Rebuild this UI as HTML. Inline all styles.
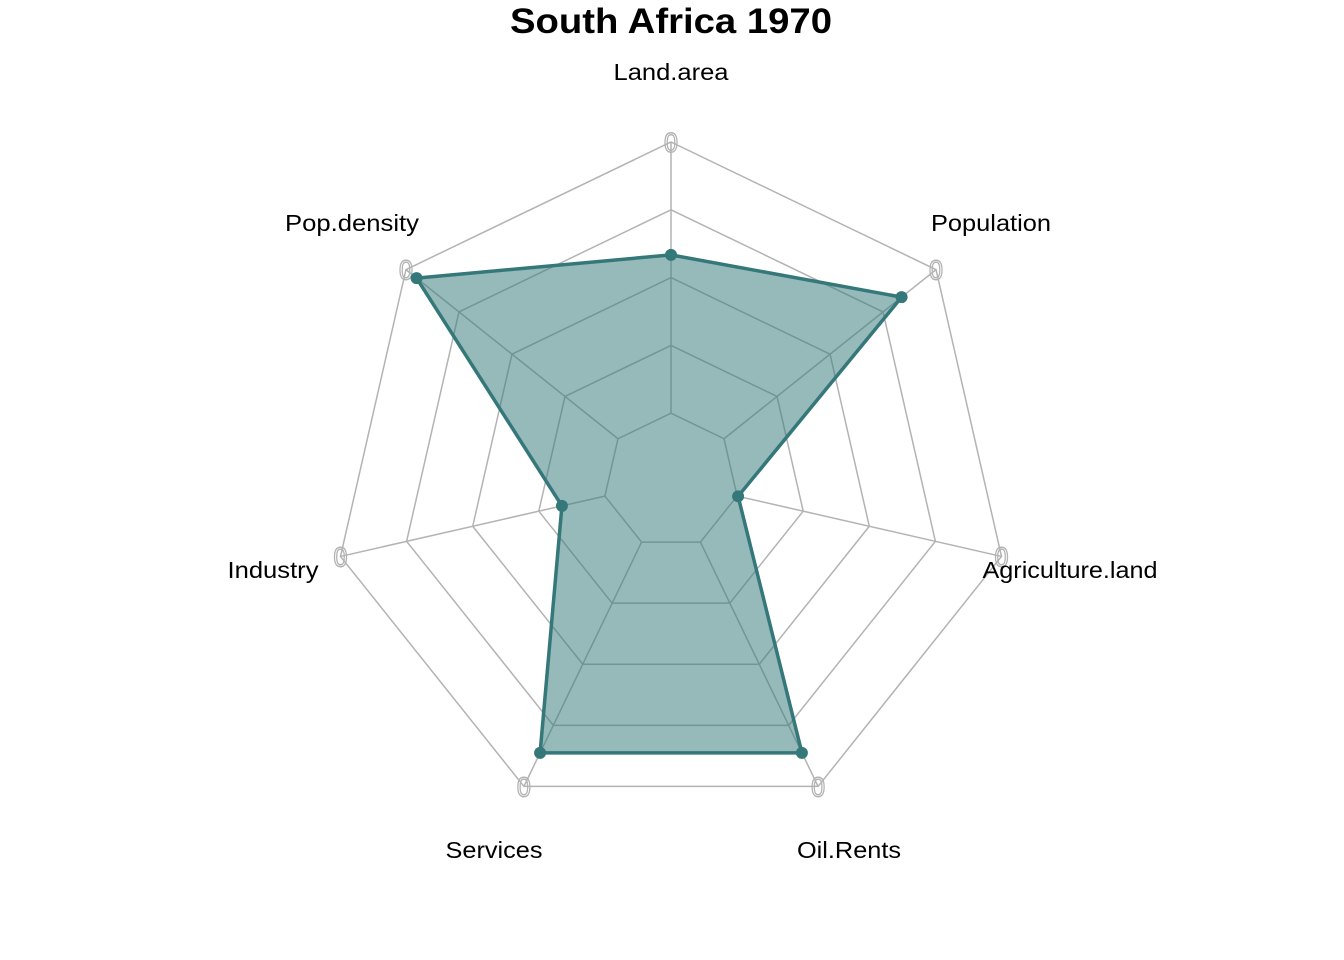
<!DOCTYPE html>
<html><head><meta charset="utf-8"><style>
html,body{margin:0;padding:0;background:#fff;}
svg{display:block;font-family:"Liberation Sans",sans-serif;}
</style></head><body>
<svg id="chart" width="1344" height="960">
<text x="671" y="33" text-anchor="middle" font-size="35" font-weight="bold" textLength="322" lengthAdjust="spacingAndGlyphs">South Africa 1970</text>
<g id="grid"></g>
<g id="series"></g>
<g id="labels"></g>
</svg>
<script>
const categories = ["Land.area","Population","Agriculture.land","Oil.Rents","Services","Industry","Pop.density"];
const values = [0.667, 0.87, 0.203, 0.89, 0.89, 0.33, 0.96];
const ringLevels = [0.2, 0.4, 0.6, 0.8, 1.0];
const axisTickLabel = "0";
const NS="http://www.w3.org/2000/svg";
const cx=671, cy=481, R=339;
function pt(i,f){const a=2*Math.PI*i/categories.length;return [cx+R*f*Math.sin(a), cy-R*f*Math.cos(a)];}
function mk(tag,attrs,parent){const e=document.createElementNS(NS,tag);for(const k in attrs)e.setAttribute(k,attrs[k]);parent.appendChild(e);return e;}
const grid=document.getElementById('grid'), series=document.getElementById('series'), labels=document.getElementById('labels');
ringLevels.forEach((l,j)=>{
  const p=categories.map((c,i)=>pt(i,l).join(',')).join(' ');
  const e=mk('polygon',{points:p,fill:'none',stroke:'#b3b3b3','stroke-width':1.5},grid);
  
  
});
categories.forEach((c,i)=>{
  const [x0,y0]=pt(i,ringLevels[0]);
  const [x,y]=pt(i,1);
  const e=mk('line',{x1:x0,y1:y0,x2:x,y2:y,stroke:'#b3b3b3','stroke-width':1.5},grid);
  
  
  const t=mk('text',{x:x,y:y+10,'text-anchor':'middle','font-size':28,fill:'none',stroke:'#b3b3b3','stroke-width':1.4,textLength:14,lengthAdjust:'spacingAndGlyphs'},grid);
  t.textContent=axisTickLabel;
  
  
});
const poly=mk('polygon',{points:values.map((v,i)=>pt(i,v).join(',')).join(' '),fill:'rgba(53,120,122,0.52)',stroke:'#35787a','stroke-width':3.5,'stroke-linejoin':'round'},series);


values.forEach((v,i)=>{
  const [x,y]=pt(i,v);
  const d=mk('circle',{cx:x,cy:y,r:6,fill:'#35787a'},series);
  
  
});
const labelPos=[[671,80],[991,231],[1070,578],[849,858],[494,858],[273,578],[352,231]];
const labelWidths=[115,120,175,104,97,91,134];
categories.forEach((c,i)=>{
  const t=mk('text',{x:labelPos[i][0],y:labelPos[i][1],'text-anchor':'middle','font-size':23,fill:'#000',textLength:labelWidths[i],lengthAdjust:'spacingAndGlyphs'},labels);
  t.textContent=c;
  
  
});
</script>
</body></html>
